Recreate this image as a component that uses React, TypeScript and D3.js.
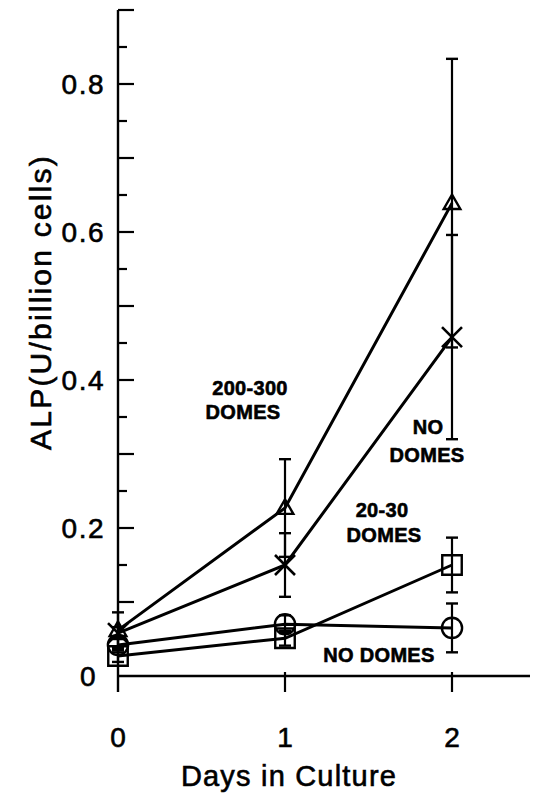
import * as d3 from "d3";
import { useRef, useEffect } from "react";

// chart values
const days = [0, 1, 2];
const dome200 = [0.062, 0.227, 0.639];
const dome200Err = [0.024, 0.066, 0.195];
const noDomeX = [0.058, 0.15, 0.458];
const noDomeXErr = [0.008, 0.043, 0.138];
const dome20 = [0.027, 0.051, 0.15];
const dome20Err = [0.008, 0.01, 0.037];
const noDomeO = [0.042, 0.07, 0.065];
const noDomeOErr = [0.01, 0.012, 0.033];

const yTicks = [0, 0.2, 0.4, 0.6, 0.8];
const xTicks = [0, 1, 2];

const width = 534;
const height = 793;
const font = "'Liberation Sans', Arial, sans-serif";

const App = () => {
  const ref = useRef(null);

  useEffect(() => {
    if (!ref.current) return;
    const svg = d3.select(ref.current);
    svg.selectAll("*").remove();

    const x = d3.scaleLinear().domain([0, 2.5]).range([118, 535.5]);
    const y = d3.scaleLinear().domain([0, 0.9]).range([676, 10]);

    const g = svg.append("g");

    // y axis line + ticks (long every 0.1, short every 0.05)
    g.append("line")
      .attr("x1", x(0)).attr("x2", x(0))
      .attr("y1", y(0.9)).attr("y2", y(0) + 16)
      .attr("stroke", "#000").attr("stroke-width", 2.4);
    const minor = d3.range(1, 19).map((i) => i * 0.05);
    g.selectAll(".ytick")
      .data(minor)
      .enter().append("line")
      .attr("x1", x(0))
      .attr("x2", (d, i) => x(0) + (i % 2 === 1 ? 16 : 9))
      .attr("y1", (d) => y(d)).attr("y2", (d) => y(d))
      .attr("stroke", "#000").attr("stroke-width", 2.2);

    // x axis line + ticks
    g.append("line")
      .attr("x1", x(0)).attr("x2", 530)
      .attr("y1", y(0)).attr("y2", y(0))
      .attr("stroke", "#000").attr("stroke-width", 2.4);
    g.selectAll(".xtick")
      .data(xTicks.slice(1))
      .enter().append("line")
      .attr("x1", (d) => x(d)).attr("x2", (d) => x(d))
      .attr("y1", y(0) - 4).attr("y2", y(0) + 16)
      .attr("stroke", "#000").attr("stroke-width", 2.2);

    const txt = (sel, size, spacing) =>
      sel.attr("font-family", font).attr("font-size", size)
        .attr("letter-spacing", spacing)
        .attr("stroke", "#000").attr("stroke-width", 0.6)
        .attr("fill", "#000");

    // tick labels
    txt(g.selectAll(".ylab")
      .data(yTicks)
      .enter().append("text")
      .attr("x", (d) => (d === 0 ? 97 : 105))
      .attr("y", (d) => y(d) + 10)
      .attr("text-anchor", "end")
      .text((d) => (d === 0 ? "0" : d3.format(".1f")(d))), 28, 1.5);
    txt(g.selectAll(".xlab")
      .data(xTicks)
      .enter().append("text")
      .attr("x", (d) => x(d))
      .attr("y", 747)
      .attr("text-anchor", "middle")
      .text((d) => d), 28, 0);

    // axis titles
    txt(g.append("text")
      .attr("x", 289).attr("y", 786)
      .attr("text-anchor", "middle")
      .text("Days in Culture"), 29, 1.2);
    txt(g.append("text")
      .attr("transform", "translate(51,302) rotate(-90)")
      .attr("text-anchor", "middle")
      .text("ALP(U/billion cells)"), 30, 2.2);

    const series = [
      { vals: dome200, err: dome200Err, sym: "tri" },
      { vals: noDomeX, err: noDomeXErr, sym: "x" },
      { vals: dome20, err: dome20Err, sym: "sq" },
      { vals: noDomeO, err: noDomeOErr, sym: "circ" },
    ];

    const line = d3.line<number>()
      .x((d, i) => x(days[i]))
      .y((d) => y(d));

    series.forEach((s) => {
      g.append("path")
        .attr("d", line(s.vals))
        .attr("fill", "none")
        .attr("stroke", "#000").attr("stroke-width", 3);

      // error bars
      days.forEach((day, i) => {
        const lo = s.vals[i] - s.err[i];
        const hi = s.vals[i] + s.err[i];
        g.append("line")
          .attr("x1", x(day)).attr("x2", x(day))
          .attr("y1", y(lo)).attr("y2", y(hi))
          .attr("stroke", "#000").attr("stroke-width", 2.2);
        [lo, hi].forEach((v) => {
          g.append("line")
            .attr("x1", x(day) - 6).attr("x2", x(day) + 6)
            .attr("y1", y(v)).attr("y2", y(v))
            .attr("stroke", "#000").attr("stroke-width", 2.4);
        });
      });

      // markers
      days.forEach((day, i) => {
        const cx = x(day);
        const cy = y(s.vals[i]);
        if (s.sym === "x") {
          g.append("path")
            .attr("d", `M${cx - 10},${cy - 10}L${cx + 10},${cy + 10}M${cx - 10},${cy + 10}L${cx + 10},${cy - 10}`)
            .attr("stroke", "#000").attr("stroke-width", 2.6).attr("fill", "none");
        } else {
          const type = s.sym === "tri" ? d3.symbolTriangle : s.sym === "sq" ? d3.symbolSquare : d3.symbolCircle;
          const size = s.sym === "tri" ? 120 : s.sym === "sq" ? 380 : 320;
          g.append("path")
            .attr("transform", `translate(${cx},${cy + (s.sym === "tri" ? 1 : 0)})`)
            .attr("d", d3.symbol().type(type).size(size)())
            .attr("fill", "none")
            .attr("stroke", "#000").attr("stroke-width", 2.4);
        }
      });
    });

    // series labels
    const labels = [
      { t: "200-300", x: 250, y: 395 },
      { t: "DOMES", x: 243, y: 419 },
      { t: "NO", x: 428, y: 434 },
      { t: "DOMES", x: 427, y: 462 },
      { t: "20-30", x: 382, y: 517 },
      { t: "DOMES", x: 384, y: 542 },
      { t: "NO DOMES", x: 379, y: 662 },
    ];
    txt(g.selectAll(".lab")
      .data(labels)
      .enter().append("text")
      .attr("x", (d) => d.x).attr("y", (d) => d.y)
      .attr("text-anchor", "middle")
      .attr("font-weight", "bold")
      .text((d) => d.t), 20, 0.3);
  }, []);

  return (
    <svg
      ref={ref}
      width={width}
      height={height}
      style={{ position: "absolute", left: 0, top: 0, background: "#fff" }}
    />
  );
};

export default App;
